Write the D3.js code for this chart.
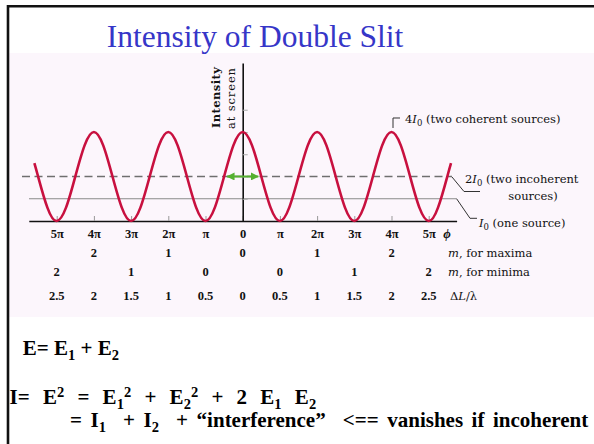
<!DOCTYPE html>
<html>
<head>
<meta charset="utf-8">
<script src="https://cdn.jsdelivr.net/npm/d3@7"></script>
<style>
  html, body { margin: 0; padding: 0; background: #fff; }
  svg { display: block; }
  text { white-space: pre; }
</style>
</head>
<body>
<svg id="slide" width="594" height="444"></svg>
<script>
// Phase difference ϕ (in units of π) and two-slit intensity (in units of I0)
const phiPi = [-5.6, -5.5, -5.25, -5, -4.75, -4.5, -4.25, -4, -3.75, -3.5, -3.25, -3,
  -2.75, -2.5, -2.25, -2, -1.75, -1.5, -1.25, -1, -0.75, -0.5, -0.25, 0,
  0.25, 0.5, 0.75, 1, 1.25, 1.5, 1.75, 2, 2.25, 2.5, 2.75, 3, 3.25, 3.5, 3.75, 4,
  4.25, 4.5, 4.75, 5, 5.25, 5.5, 5.6];
const intensity = [2.6, 2, 0.6, 0, 0.6, 2, 3.4, 4, 3.4, 2, 0.6, 0,
  0.6, 2, 3.4, 4, 3.4, 2, 0.6, 0, 0.6, 2, 3.4, 4,
  3.4, 2, 0.6, 0, 0.6, 2, 3.4, 4, 3.4, 2, 0.6, 0, 0.6, 2, 3.4, 4,
  3.4, 2, 0.6, 0, 0.6, 2, 2.6];

// Axis ticks along ϕ
const phiTickValues = [-5, -4, -3, -2, -1, 0, 1, 2, 3, 4, 5];
const phiTickLabels = ["5π", "4π", "3π", "2π", "π", "0", "π", "2π", "3π", "4π", "5π"];
const intensityTicks = [1, 2, 3, 4, 5];

// Orders of the maxima and minima, and path difference ΔL/λ
const maximaPhi = [-4, -2, 0, 2, 4];
const maximaOrder = ["2", "1", "0", "1", "2"];
const minimaPhi = [-5, -3, -1, 1, 3, 5];
const minimaOrder = ["2", "1", "0", "0", "1", "2"];
const pathDiffLabels = ["2.5", "2", "1.5", "1", "0.5", "0", "0.5", "1", "1.5", "2", "2.5"];

// Reference intensity levels (units of I0)
const oneSourceLevel = 1;
const incoherentLevel = 2;
const coherentLevel = 4;
const fringeHalfWidth = 0.42; // ϕ/π reach of the green width arrow

const svg = d3.select("#slide");
const serif = "'Liberation Serif', 'Times New Roman', serif";
const wideSerif = "'DejaVu Serif', serif";

// Slide background and frame
svg.append("rect").attr("x", 9).attr("y", 53).attr("width", 585).attr("height", 264)
  .attr("fill", "#fcf6fc");
svg.append("path").attr("d", "M8,444V6.2H594")
  .attr("fill", "none").attr("stroke", "#111").attr("stroke-width", 2.6);

// Title
svg.append("text").attr("x", 255).attr("y", 46.5).attr("text-anchor", "middle")
  .attr("font-family", serif).attr("font-size", 31.5).attr("fill", "#3636c8")
  .text("Intensity of Double Slit");

// Scales
const x = d3.scaleLinear().domain([-5.75, 5.75]).range([28.8, 456.6]);
const y = d3.scaleLinear().domain([0, 7.1]).range([221, 63]);

// Helper for text with italics, subscripts and superscripts
function richText(parent, px, py, segs, o) {
  const t = parent.append("text").attr("x", px).attr("y", py)
    .attr("font-family", o.family).attr("font-size", o.size)
    .attr("font-weight", o.weight || "normal").attr("fill", o.fill || "#111");
  if (o.anchor) t.attr("text-anchor", o.anchor);
  if (o.wordSpacing) t.style("word-spacing", o.wordSpacing + "px");
  let shift = 0;
  segs.forEach(s => {
    const target = s.sub ? o.subDy : s.sup ? -o.supDy : 0;
    const ts = t.append("tspan").text(s.t).attr("dy", target - shift);
    shift = target;
    if (s.sub || s.sup) ts.attr("font-size", o.small);
    if (s.i) ts.attr("font-style", "italic");
  });
  return t;
}

// Reference levels: one source (solid) and two incoherent sources (dashed)
svg.append("line")
  .attr("x1", 29).attr("x2", 456.6)
  .attr("y1", y(oneSourceLevel)).attr("y2", y(oneSourceLevel))
  .attr("stroke", "#8a8a8a").attr("stroke-width", 1.2);
svg.append("line")
  .attr("x1", 22).attr("x2", 452)
  .attr("y1", y(incoherentLevel)).attr("y2", y(incoherentLevel))
  .attr("stroke", "#6f6f6f").attr("stroke-width", 1.6)
  .attr("stroke-dasharray", "8,4.5");

// ϕ axis
const xAxis = svg.append("g")
  .attr("transform", `translate(0,${y(0)})`)
  .call(d3.axisBottom(x).tickValues(phiTickValues).tickSizeInner(-5).tickSizeOuter(0)
    .tickPadding(8).tickFormat((d, i) => phiTickLabels[i]));
xAxis.select(".domain").attr("stroke", "#111").attr("stroke-width", 1.6);
xAxis.selectAll(".tick line").attr("stroke", "#999");
xAxis.selectAll(".tick text").attr("font-family", serif).attr("font-size", 12.5)
  .attr("font-weight", "bold").attr("fill", "#111");

// Intensity axis
const yAxis = svg.append("g")
  .attr("transform", `translate(${x(0)},0)`)
  .call(d3.axisRight(y).tickValues(intensityTicks).tickSizeInner(5).tickSizeOuter(0)
    .tickFormat(""));
yAxis.select(".domain").attr("stroke", "#111").attr("stroke-width", 1.6);
yAxis.selectAll(".tick line").attr("stroke", "#aaa");

// Intensity axis title
svg.append("text")
  .attr("transform", `translate(220,97.5) rotate(-90)`)
  .attr("text-anchor", "middle").attr("font-family", wideSerif).attr("font-size", 11.5)
  .attr("font-weight", "bold").attr("fill", "#111")
  .attr("textLength", 61).attr("lengthAdjust", "spacing")
  .text("Intensity");
svg.append("text")
  .attr("transform", `translate(234.5,98.5) rotate(-90)`)
  .attr("text-anchor", "middle").attr("font-family", wideSerif).attr("font-size", 11.5)
  .attr("fill", "#111")
  .attr("textLength", 61).attr("lengthAdjust", "spacing")
  .text("at screen");

// Intensity curve
const pts = phiPi.map((p, i) => ({ p, v: intensity[i] }));
svg.append("path").datum(pts)
  .attr("fill", "none").attr("stroke", "#c8103f").attr("stroke-width", 2.6)
  .attr("stroke-linejoin", "round")
  .attr("d", d3.line().x(d => x(d.p)).y(d => y(d.v)).curve(d3.curveNatural));

// Fringe width arrow at the central maximum
const defs = svg.append("defs");
defs.append("marker").attr("id", "greenHead")
  .attr("viewBox", "0 0 8 8").attr("refX", 7.5).attr("refY", 4)
  .attr("markerWidth", 8).attr("markerHeight", 8).attr("markerUnits", "userSpaceOnUse")
  .attr("orient", "auto-start-reverse")
  .append("path").attr("d", "M0,0L8,4L0,8Z").attr("fill", "#55b030");
svg.append("line")
  .attr("x1", x(-fringeHalfWidth)).attr("x2", x(fringeHalfWidth))
  .attr("y1", y(incoherentLevel)).attr("y2", y(incoherentLevel))
  .attr("stroke", "#55b030").attr("stroke-width", 2)
  .attr("marker-start", "url(#greenHead)").attr("marker-end", "url(#greenHead)");

// Level annotations
const annot = { family: wideSerif, size: 11.5, small: 8.5, subDy: 3, supDy: 4 };
function leaderPath(d) {
  svg.append("path").attr("d", d)
    .attr("fill", "none").attr("stroke", "#333").attr("stroke-width", 1);
}
leaderPath(`M${x(4) + 1.5},${y(coherentLevel) - 4}V${y(coherentLevel) - 14}H400`);
richText(svg, 405, 123.3, [{ t: "4" }, { t: "I", i: true }, { t: "0", sub: true },
  { t: " (two coherent sources)" }], annot);

leaderPath(`M452,${y(incoherentLevel) + 0.5}L464,191.5H480`);
richText(svg, 465, 182.5, [{ t: "2" }, { t: "I", i: true }, { t: "0", sub: true },
  { t: " (two incoherent" }], annot);
richText(svg, 533, 199.5, [{ t: "sources)" }], Object.assign({ anchor: "middle" }, annot));

leaderPath(`M456.6,${y(oneSourceLevel)}L470,218.3H477`);
richText(svg, 479, 226.5, [{ t: "I", i: true }, { t: "0", sub: true },
  { t: " (one source)" }], annot);

// ϕ label at the end of the axis
svg.append("text").attr("x", 447).attr("y", 238).attr("text-anchor", "middle")
  .attr("font-family", serif).attr("font-size", 13).attr("font-style", "italic")
  .attr("font-weight", "bold").attr("fill", "#111").text("ϕ");

// Rows of orders and path differences
function numberRow(xs, labels, baseline) {
  svg.append("g").selectAll("text").data(xs).join("text")
    .attr("x", d => x(d)).attr("y", baseline).attr("text-anchor", "middle")
    .attr("font-family", serif).attr("font-size", 12.5).attr("font-weight", "bold")
    .attr("fill", "#111").text((d, i) => labels[i]);
}
numberRow(maximaPhi, maximaOrder, 257);
numberRow(minimaPhi, minimaOrder, 276);
numberRow(phiTickValues, pathDiffLabels, 300);

richText(svg, 448, 257, [{ t: "m", i: true }, { t: ", for maxima" }], annot);
richText(svg, 448, 276, [{ t: "m", i: true }, { t: ", for minima" }], annot);
richText(svg, 450, 300, [{ t: "Δ" }, { t: "L", i: true }, { t: "/λ" }], annot);

// Field and intensity relations
const eq = { family: serif, size: 21, weight: "bold", small: 14.5, subDy: 4.5, supDy: 7.5, fill: "#000" };
richText(svg, 22.7, 355, [{ t: "E= E" }, { t: "1", sub: true }, { t: " + E" }, { t: "2", sub: true }], eq);
richText(svg, 9.5, 404, [{ t: "I= E" }, { t: "2", sup: true }, { t: " = E" }, { t: "1", sub: true },
  { t: "2", sup: true }, { t: " + E" }, { t: "2", sub: true }, { t: "2", sup: true },
  { t: " + 2 E" }, { t: "1", sub: true }, { t: " E" }, { t: "2", sub: true }],
  Object.assign({}, eq, { wordSpacing: 8 }));
richText(svg, 70, 427, [{ t: "= I" }, { t: "1", sub: true }, { t: "  + I" }, { t: "2", sub: true },
  { t: "  + “interference”  <== vanishes if incoherent" }],
  Object.assign({}, eq, { wordSpacing: 3.3 }));
</script>
</body>
</html>
